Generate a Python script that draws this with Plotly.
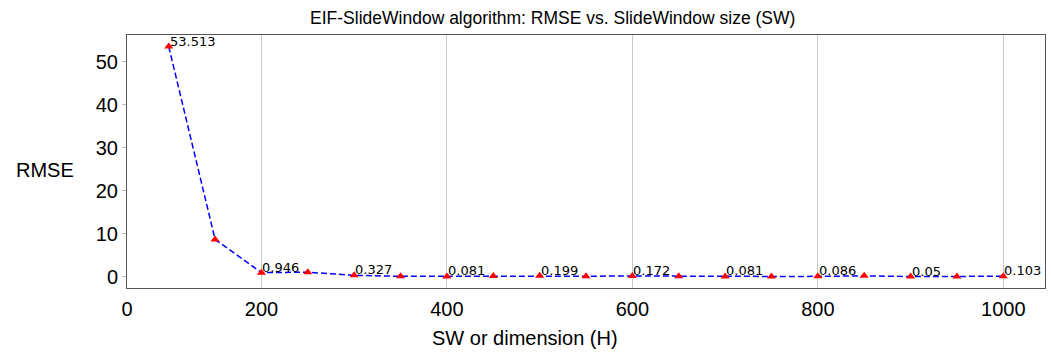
import plotly.graph_objects as go

# ---- data ----
sw_size = [100, 150, 200, 250, 300, 350, 400, 450, 500, 550,
           600, 650, 700, 750, 800, 850, 900, 950, 1000]
rmse = [53.513, 8.67, 0.946, 1.05, 0.327, 0.10, 0.081, 0.15, 0.199, 0.12,
        0.172, 0.09, 0.081, 0.07, 0.086, 0.20, 0.05, 0.06, 0.103]
label_text = ["53.513", "", "0.946", "", "0.327", "", "0.081", "", "0.199", "",
              "0.172", "", "0.081", "", "0.086", "", "0.05", "", "0.103"]
x_tick_vals = [55, 200, 400, 600, 800, 1000]
x_tick_text = ["0", "200", "400", "600", "800", "1000"]
y_tick_vals = [0, 10, 20, 30, 40, 50]

fig = go.Figure()
fig.add_trace(go.Scatter(
    x=sw_size, y=rmse, mode="lines+markers",
    line=dict(color="#0000ff", width=1.5, dash="6px,3px"),
    marker=dict(symbol="triangle-up", color="#ff0000", size=8),
    showlegend=False, hoverinfo="x+y",
))

annotations = []
for xv, yv, t in zip(sw_size, rmse, label_text):
    if t:
        annotations.append(dict(
            x=xv, y=yv, xref="x", yref="y", text=t, showarrow=False,
            xanchor="left", yanchor="bottom", yshift=-4, xshift=-1,
            font=dict(family="DejaVu Sans", size=13, color="#000000"),
        ))

annotations.append(dict(
    x=-0.0888, y=0.466, xref="paper", yref="paper", text="RMSE",
    showarrow=False, xanchor="center", yanchor="middle",
    font=dict(family="Liberation Sans", size=20, color="#000000"),
))
annotations.append(dict(
    x=(525 - 127) / 918, y=-0.198, xref="paper", yref="paper",
    text="SW or dimension (H)",
    showarrow=False, xanchor="center", yanchor="middle",
    font=dict(family="Liberation Sans", size=20, color="#000000"),
))

fig.update_layout(
    width=1051, height=354,
    margin=dict(l=127, r=6, t=35, b=66),
    paper_bgcolor="white", plot_bgcolor="white",
    title=dict(
        text="EIF-SlideWindow algorithm: RMSE vs. SlideWindow size (SW)",
        x=552.7 / 1051, xanchor="center", y=1 - 18 / 354, yanchor="middle",
        font=dict(family="Liberation Sans", size=17.5, color="#000000"),
    ),
    annotations=annotations,
    font=dict(family="Liberation Sans", color="#000000"),
)
fig.update_xaxes(
    range=[55, 1045], tickvals=x_tick_vals, ticktext=x_tick_text,
    showgrid=True, gridcolor="#c8c8c8", gridwidth=1,
    showline=True, linecolor="#555555", linewidth=1, mirror=True,
    ticks="outside", ticklen=3, tickcolor="rgba(0,0,0,0)",
    tickfont=dict(family="Liberation Sans", size=20, color="#000000"),
    zeroline=False,
)
fig.update_yaxes(
    range=[-2.62, 56.19], tickvals=y_tick_vals,
    showgrid=False,
    showline=True, linecolor="#555555", linewidth=1, mirror=True,
    ticks="outside", ticklen=4, tickcolor="#bbbbbb",
    tickfont=dict(family="Liberation Sans", size=20, color="#000000"),
    zeroline=False,
)

fig.write_html("out.html")
